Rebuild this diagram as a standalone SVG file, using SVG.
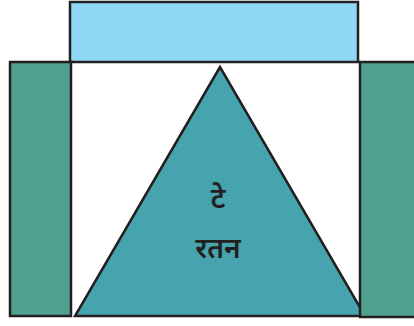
<svg xmlns="http://www.w3.org/2000/svg" width="414" height="326" viewBox="0 0 414 326">
<style>
.s{stroke:#231F20;stroke-width:2.5;stroke-linejoin:miter}
.g{fill:#4FA18D}
.t{font-family:"Noto Sans","Noto Sans Devanagari",sans-serif;font-size:28px;font-weight:600;fill:#231F20;text-anchor:middle}
</style>
<rect width="414" height="326" fill="#ffffff"/>
<g id="top-block"><rect class="s" x="70" y="2" width="288" height="60" fill="#8ED8F6"/></g>
<g id="triangle"><polygon class="s" points="220,67 75,316 365,316" fill="#45A4AE"/>
<text class="t" x="218" y="208">टे</text>
<text class="t" x="218" y="258">रतन</text></g>
<g id="left-block"><rect class="s g" x="10" y="62" width="61" height="254"/></g>
<g id="right-block"><rect class="s g" x="360" y="62" width="60" height="255"/></g>
</svg>
